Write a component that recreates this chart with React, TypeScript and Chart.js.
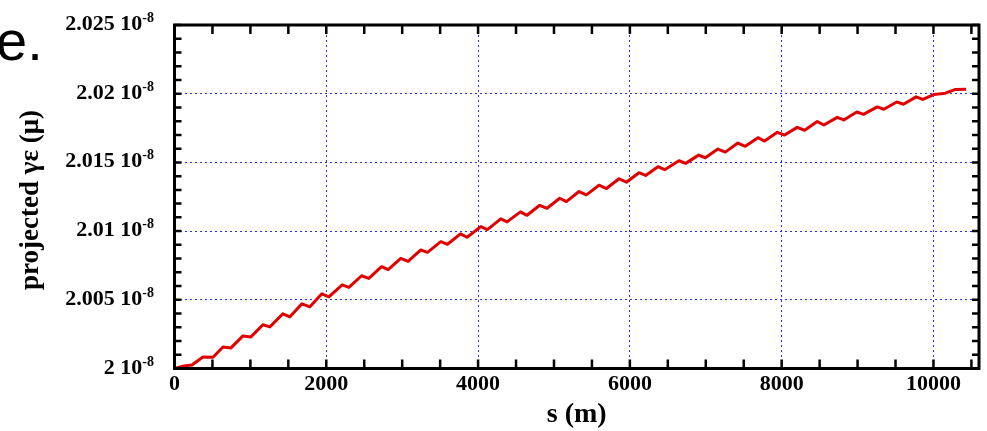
import React, { useEffect, useRef } from "react";
import { Chart, registerables } from "chart.js";

Chart.register(...registerables);

// distance along the line, s (m)
const sValues = [
  0, 125, 230, 375, 507, 639, 744, 902, 1007, 1165, 1257, 1428, 1521, 1679, 1784, 1942, 2034,
  2210, 2298, 2465, 2561, 2728, 2815, 2982, 3078, 3245, 3333, 3509, 3597, 3768, 3855, 4036, 4123,
  4299, 4382, 4558, 4645, 4812, 4909, 5076, 5164, 5330, 5427, 5593, 5691, 5857, 5954, 6120, 6208,
  6370, 6458, 6647, 6735, 6906, 6994, 7160, 7257, 7423, 7521, 7687, 7775, 7942, 8038, 8205, 8302,
  8469, 8556, 8732, 8819, 8990, 9078, 9259, 9346, 9517, 9605, 9772, 9859, 10004, 10158, 10290, 10430,
];

// projected emittance, in units of 1e-8
const emitValues = [
  2.0, 2.00018, 2.00026, 2.00084, 2.00082, 2.00157, 2.0015, 2.00237, 2.0023, 2.00318, 2.00303,
  2.00398, 2.00376, 2.00471, 2.00449, 2.00544, 2.00522,
  2.00609, 2.0059, 2.00675, 2.00656, 2.00741, 2.00719, 2.00802, 2.0078, 2.00863, 2.00845,
  2.00923, 2.00904, 2.0098, 2.00955, 2.01033, 2.01011,
  2.01089, 2.01067, 2.0114, 2.01115, 2.01188, 2.01166, 2.01239, 2.01215, 2.01288, 2.01264,
  2.01334, 2.0131, 2.01381, 2.01356, 2.01425, 2.01405,
  2.01469, 2.01447, 2.01512, 2.01493, 2.01553, 2.01534, 2.01597, 2.01575, 2.01641, 2.01617,
  2.0168, 2.01655, 2.01719, 2.01699, 2.01755, 2.01734,
  2.01797, 2.01772, 2.01828, 2.01809, 2.01867, 2.0185, 2.01904, 2.01887, 2.0194, 2.01923,
  2.01977, 2.01958, 2.01994, 2.02004, 2.02031, 2.02033,
];

const xTicks = [0, 2000, 4000, 6000, 8000, 10000];
const xTickLabels = ["0", "2000", "4000", "6000", "8000", "10000"];
const yTicks = [2.0, 2.005, 2.01, 2.015, 2.02, 2.025];
const yTickLabels = ["2", "2.005", "2.01", "2.015", "2.02", "2.025"];
const yTickExponent = "-8";
const xMin = 0;
const xMax = 10600;
const yMin = 2.0;
const yMax = 2.025;
const xMinorStep = 500;
const yMinorStep = 0.001;

const xTitle = "s (m)";
const yTitle = "projected γε (μ)";
const panelLabel = "e.";

const SERIF = '"Liberation Serif", "DejaVu Serif", serif';
const GRID = "rgb(45,45,255)";

const decor = {
  id: "decor",
  afterDraw(chart: any) {
    const { ctx, chartArea: a } = chart;
    const x = chart.scales.x;
    const y = chart.scales.y;
    ctx.save();

    // minor + major ticks, inward on all four sides
    ctx.strokeStyle = "#000";
    ctx.lineWidth = 2.5;
    ctx.setLineDash([]);
    const nx = Math.round((xMax - xMin) / xMinorStep);
    for (let i = 0; i <= nx; i++) {
      const v = xMin + i * xMinorStep;
      const px = x.getPixelForValue(v);
      const len = 9;
      ctx.beginPath();
      ctx.moveTo(px, a.bottom);
      ctx.lineTo(px, a.bottom - len);
      ctx.moveTo(px, a.top);
      ctx.lineTo(px, a.top + len);
      ctx.stroke();
    }
    const ny = Math.round((yMax - yMin) / yMinorStep);
    for (let i = 0; i <= ny; i++) {
      const v = yMin + i * yMinorStep;
      const py = y.getPixelForValue(v);
      const len = 7;
      ctx.beginPath();
      ctx.moveTo(a.left, py);
      ctx.lineTo(a.left + len, py);
      ctx.moveTo(a.right, py);
      ctx.lineTo(a.right - len, py);
      ctx.stroke();
    }

    // frame
    ctx.lineWidth = 3;
    ctx.strokeRect(a.left, a.top, a.right - a.left, a.bottom - a.top);

    // x tick labels
    ctx.fillStyle = "#000";
    ctx.font = `bold 22px ${SERIF}`;
    ctx.textAlign = "center";
    ctx.textBaseline = "alphabetic";
    xTicks.forEach((v, i) => {
      ctx.fillText(xTickLabels[i], x.getPixelForValue(v), 390);
    });

    // y tick labels with superscript exponent
    const right = 154;
    yTicks.forEach((v, i) => {
      const py = y.getPixelForValue(v);
      const base = py + 5;
      ctx.font = `bold 14px ${SERIF}`;
      ctx.textAlign = "right";
      ctx.fillText(yTickExponent, right, base - 8);
      const supW = ctx.measureText(yTickExponent).width;
      ctx.font = `bold 22px ${SERIF}`;
      ctx.fillText(yTickLabels[i] + " 10", right - supW, base);
    });

    // axis titles
    ctx.font = `bold 28px ${SERIF}`;
    ctx.textAlign = "center";
    ctx.fillText(xTitle, (a.left + a.right) / 2, 422);

    ctx.save();
    ctx.translate(38, 200);
    ctx.rotate(-Math.PI / 2);
    ctx.font = `bold 27px ${SERIF}`;
    ctx.textAlign = "center";
    ctx.fillText(yTitle, 0, 0);
    ctx.restore();

    // panel label
    ctx.font = `56px "Liberation Sans", Arial, sans-serif`;
    ctx.textAlign = "left";
    ctx.fillText(panelLabel, -4, 60);

    ctx.restore();
  },
};

export default function App() {
  const ref = useRef<HTMLCanvasElement | null>(null);

  useEffect(() => {
    if (!ref.current) return;
    const chart = new Chart(ref.current, {
      type: "line",
      data: {
        datasets: [
          {
            data: sValues.map((s, i) => ({ x: s, y: emitValues[i] })),
            borderColor: "#e10000",
            borderWidth: 3,
            borderJoinStyle: "round",
            pointRadius: 0,
            tension: 0,
            fill: false,
          },
        ],
      },
      options: {
        animation: false,
        responsive: false,
        devicePixelRatio: 1,
        layout: { padding: { left: 174.5, top: 25, right: 8, bottom: 62.5 } },
        plugins: { legend: { display: false }, tooltip: { enabled: false } },
        scales: {
          x: {
            type: "linear",
            min: xMin,
            max: xMax,
            afterBuildTicks: (scale: any) => {
              scale.ticks = xTicks.map((v) => ({ value: v }));
            },
            ticks: { display: false },
            grid: { color: GRID, lineWidth: 1, drawTicks: false },
            border: { display: false, dash: [2, 3] },
          },
          y: {
            type: "linear",
            min: yMin,
            max: yMax,
            afterBuildTicks: (scale: any) => {
              scale.ticks = yTicks.map((v) => ({ value: v }));
            },
            ticks: { display: false },
            grid: { color: GRID, lineWidth: 1, drawTicks: false },
            border: { display: false, dash: [2, 3] },
          },
        },
      },
      plugins: [decor],
    });
    return () => chart.destroy();
  }, []);

  return (
    <div style={{ position: "absolute", left: 0, top: 0, width: 987, height: 431, background: "#fff" }}>
      <canvas ref={ref} width={987} height={431} style={{ width: 987, height: 431, display: "block" }} />
    </div>
  );
}
